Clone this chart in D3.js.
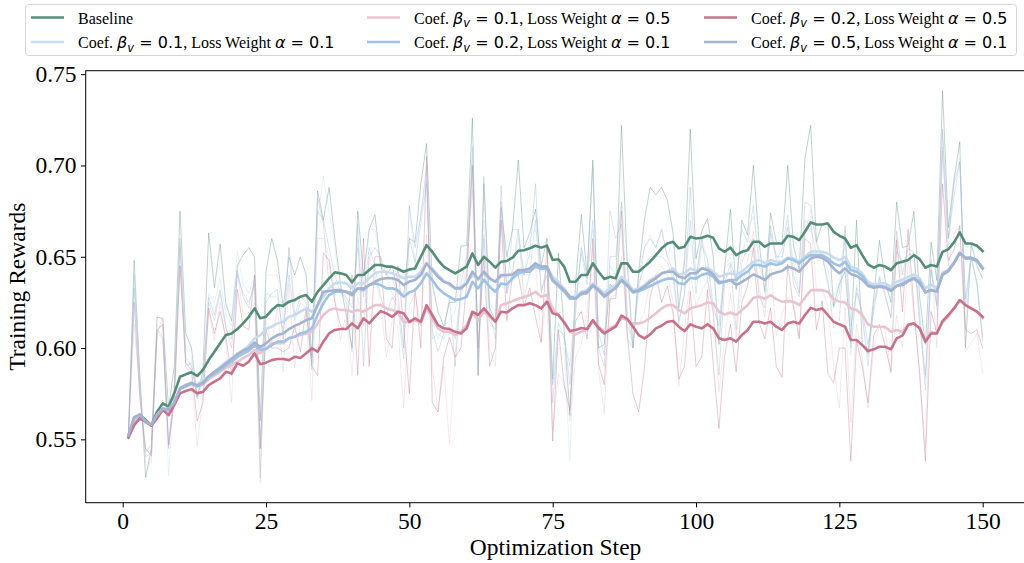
<!DOCTYPE html>
<html lang="en">
<head>
<meta charset="UTF-8">
<title>Training Rewards</title>
<script src="https://d3js.org/d3.v7.min.js"></script>
<style>
  body { margin: 0; background: #fff; }
  svg { display: block; font-family: "Liberation Serif", "Times New Roman", serif; }
</style>
</head>
<body>
<svg id="chart" width="1024" height="563"></svg>
<script>
const steps = d3.range(1, 151);
const xTicks = [0, 25, 50, 75, 100, 125, 150];
const yTicks = [0.55, 0.60, 0.65, 0.70, 0.75];

// legend order (matplotlib fills the 3 columns top to bottom)
const betas = [null, "0.1", "0.1", "0.2", "0.2", "0.5"];
const alphas = [null, "0.1", "0.5", "0.1", "0.5", "0.1"];
const colors = ["#558e78", "#c8dcee", "#e9c4d1", "#9dc3e6", "#c7728a", "#a4b3d0"];

const rawBaseline = [
  .552,.648,.585,.529,.545,.617,.616,.567,.590,.675, .608,.600,.573,.588,.663,.633,.657,.624,.615,.645,
  .651,.655,.650,.560,.642,.660,.648,.622,.650,.640, .650,.640,.595,.686,.670,.688,.660,.635,.618,.600,
  .675,.640,.665,.673,.645,.640,.645,.630,.628,.660, .658,.690,.712,.635,.620,.612,.625,.625,.656,.656,
  .726,.585,.690,.622,.615,.677,.650,.665,.703,.655, .663,.676,.645,.660,.583,.652,.610,.563,.636,.673,
  .640,.703,.600,.602,.635,.632,.722,.646,.600,.642, .670,.688,.684,.688,.681,.663,.622,.647,.720,.649,
  .664,.671,.650,.602,.644,.676,.632,.670,.662,.700, .658,.631,.674,.658,.657,.700,.656,.643,.704,.722,
  .658,.668,.669,.623,.635,.642,.605,.670,.602,.597, .628,.659,.637,.625,.680,.655,.656,.675,.628,.602,
  .658,.637,.741,.666,.692,.713,.600,.657,.645,.638];
const rawB01A01 = [
  .552,.645,.582,.531,.540,.612,.612,.530,.580,.658, .600,.595,.575,.585,.630,.625,.638,.618,.612,.653,
  .635,.630,.640,.552,.640,.640,.640,.615,.655,.625, .632,.630,.590,.670,.694,.675,.655,.632,.628,.610,
  .660,.635,.665,.665,.645,.640,.630,.625,.600,.678, .645,.675,.692,.615,.605,.612,.615,.620,.641,.650,
  .705,.600,.670,.625,.620,.668,.650,.640,.660,.640, .660,.665,.645,.645,.580,.600,.600,.538,.628,.655,
  .640,.665,.615,.605,.645,.640,.680,.650,.605,.630, .655,.662,.655,.665,.650,.660,.625,.650,.660,.637,
  .660,.648,.620,.614,.645,.650,.635,.650,.665,.672, .652,.630,.664,.650,.647,.670,.647,.630,.664,.676,
  .656,.650,.643,.628,.636,.665,.596,.635,.616,.595, .622,.640,.635,.625,.660,.633,.655,.652,.620,.583,
  .648,.621,.718,.654,.695,.704,.610,.650,.635,.605];
const rawB01A05 = [
  .552,.613,.575,.537,.537,.607,.617,.545,.575,.645, .590,.585,.546,.575,.620,.604,.625,.602,.570,.643,
  .618,.620,.625,.526,.615,.603,.622,.587,.635,.589, .615,.618,.571,.660,.660,.650,.628,.604,.620,.585,
  .628,.612,.650,.640,.625,.595,.615,.612,.567,.623, .630,.612,.662,.590,.565,.590,.547,.597,.626,.647,
  .687,.585,.662,.600,.590,.675,.633,.636,.640,.640, .640,.647,.603,.630,.555,.586,.581,.560,.595,.602,
  .619,.655,.588,.564,.628,.629,.650,.612,.605,.613, .620,.636,.640,.645,.640,.625,.579,.610,.640,.623,
  .631,.637,.620,.576,.605,.630,.606,.634,.648,.664, .633,.617,.647,.607,.618,.628,.624,.606,.664,.672,
  .632,.632,.623,.590,.567,.622,.559,.613,.594,.567, .600,.612,.610,.586,.618,.600,.650,.618,.587,.545,
  .649,.600,.710,.645,.663,.667,.598,.603,.608,.586];
const rawB02A01 = [
  .552,.640,.580,.540,.543,.608,.605,.545,.576,.655, .590,.592,.572,.582,.625,.615,.630,.610,.605,.640,
  .630,.625,.635,.545,.630,.628,.628,.608,.640,.615, .625,.622,.588,.675,.670,.655,.640,.630,.628,.622,
  .655,.628,.655,.645,.628,.618,.628,.622,.594,.660, .647,.668,.690,.605,.608,.605,.612,.605,.630,.640,
  .710,.595,.660,.620,.605,.680,.630,.665,.665,.627, .641,.670,.632,.640,.580,.614,.605,.590,.625,.652,
  .635,.670,.609,.596,.675,.660,.668,.605,.600,.635, .645,.650,.650,.650,.647,.638,.613,.630,.670,.630,
  .656,.649,.623,.612,.644,.647,.637,.665,.658,.678, .645,.637,.663,.648,.654,.673,.640,.630,.670,.667,
  .651,.651,.635,.622,.630,.660,.600,.633,.618,.590, .625,.638,.630,.616,.653,.647,.651,.652,.618,.577,
  .643,.624,.708,.660,.683,.702,.623,.650,.635,.606];
const rawB02A05 = [
  .552,.625,.572,.545,.541,.610,.613,.547,.570,.645, .592,.588,.560,.570,.622,.608,.620,.606,.585,.632,
  .612,.610,.640,.545,.610,.600,.600,.598,.600,.612, .598,.622,.590,.585,.652,.648,.625,.612,.610,.640,
  .585,.660,.590,.650,.650,.605,.600,.645,.612,.575, .633,.600,.705,.570,.565,.595,.606,.595,.600,.636,
  .700,.600,.650,.590,.600,.670,.615,.640,.640,.623, .633,.617,.603,.657,.549,.610,.580,.566,.615,.620,
  .605,.660,.591,.580,.627,.627,.675,.608,.575,.565, .589,.628,.640,.625,.634,.619,.583,.590,.631,.590,
  .595,.632,.591,.556,.596,.613,.587,.625,.634,.655, .614,.605,.622,.590,.584,.646,.622,.605,.660,.657,
  .610,.626,.586,.581,.600,.600,.538,.604,.590,.570, .607,.613,.601,.587,.659,.620,.665,.622,.586,.538,
  .620,.608,.690,.648,.654,.667,.610,.608,.610,.600];
const rawB05A01 = [
  .552,.633,.578,.543,.547,.610,.606,.548,.578,.660, .595,.590,.574,.583,.628,.618,.632,.612,.600,.642,
  .628,.622,.638,.529,.625,.630,.632,.605,.655,.618, .628,.625,.592,.682,.668,.635,.632,.632,.625,.598,
  .668,.590,.650,.655,.650,.640,.638,.630,.600,.678, .655,.672,.700,.610,.598,.608,.628,.590,.635,.650,
  .700,.585,.694,.615,.610,.689,.630,.642,.665,.640, .652,.690,.630,.645,.570,.610,.607,.580,.620,.655,
  .638,.700,.600,.590,.650,.650,.680,.620,.600,.640, .655,.660,.655,.665,.650,.642,.615,.630,.688,.638,
  .660,.638,.619,.585,.636,.646,.610,.647,.655,.660, .628,.622,.667,.650,.650,.666,.635,.628,.680,.678,
  .658,.650,.637,.611,.615,.667,.612,.630,.620,.602, .620,.639,.628,.617,.664,.640,.655,.652,.613,.585,
  .643,.623,.720,.660,.690,.702,.627,.650,.636,.604];

const smoothBaseline = [
  .5520,.5615,.5633,.5606,.5578,.5651,.5697,.5679,.5752,.5843, .5856,.5867,.5847,.5880,.5934,.5980,.6026,.6071,.6080,.6104,
  .6135,.6171,.6217,.6163,.6172,.6208,.6235,.6232,.6254,.6263, .6281,.6290,.6254,.6308,.6345,.6382,.6415,.6409,.6400,.6360,
  .6400,.6400,.6427,.6455,.6455,.6446,.6446,.6433,.6418,.6430, .6436,.6500,.6564,.6527,.6482,.6446,.6427,.6409,.6427,.6446,
  .6518,.6455,.6500,.6473,.6440,.6473,.6477,.6495,.6533,.6536, .6546,.6560,.6550,.6560,.6482,.6486,.6446,.6363,.6363,.6400,
  .6400,.6464,.6418,.6378,.6390,.6382,.6464,.6464,.6418,.6418, .6446,.6473,.6509,.6546,.6573,.6582,.6546,.6555,.6609,.6600,
  .6604,.6615,.6604,.6546,.6527,.6550,.6509,.6527,.6536,.6582, .6582,.6555,.6573,.6573,.6573,.6615,.6609,.6591,.6637,.6688,
  .6677,.6677,.6682,.6637,.6615,.6600,.6549,.6564,.6509,.6458, .6440,.6455,.6446,.6427,.6464,.6473,.6482,.6509,.6487,.6440,
  .6455,.6446,.6527,.6541,.6579,.6634,.6573,.6573,.6560,.6531];
const smoothB01A01 = [
  .5520,.5620,.5635,.5595,.5580,.5635,.5670,.5665,.5705,.5780, .5800,.5807,.5800,.5825,.5843,.5870,.5898,.5925,.5944,.5970,
  .5989,.6016,.6053,.6071,.6104,.6117,.6135,.6144,.6171,.6181, .6199,.6217,.6199,.6235,.6281,.6327,.6354,.6360,.6354,.6327,
  .6354,.6354,.6382,.6409,.6418,.6418,.6409,.6400,.6382,.6391, .6390,.6418,.6464,.6436,.6400,.6367,.6345,.6327,.6336,.6354,
  .6400,.6373,.6409,.6382,.6363,.6390,.6400,.6400,.6418,.6418, .6436,.6455,.6446,.6446,.6391,.6363,.6327,.6281,.6281,.6308,
  .6317,.6354,.6327,.6300,.6327,.6345,.6390,.6363,.6317,.6327, .6345,.6373,.6390,.6409,.6418,.6436,.6400,.6409,.6436,.6422,
  .6436,.6440,.6418,.6390,.6400,.6409,.6400,.6418,.6446,.6473, .6482,.6464,.6482,.6473,.6473,.6495,.6491,.6473,.6500,.6527,
  .6530,.6527,.6518,.6495,.6482,.6500,.6446,.6436,.6409,.6363, .6348,.6354,.6354,.6336,.6363,.6373,.6390,.6403,.6382,.6327,
  .6348,.6327,.6414,.6427,.6473,.6524,.6491,.6491,.6477,.6440];
const smoothB01A05 = [
  .5520,.5590,.5625,.5600,.5578,.5630,.5670,.5650,.5690,.5780, .5790,.5800,.5790,.5800,.5830,.5850,.5870,.5892,.5907,.5925,
  .5944,.5962,.5990,.5971,.5998,.6026,.6026,.6026,.6053,.6062, .6071,.6080,.6089,.6135,.6181,.6208,.6217,.6208,.6208,.6199,
  .6208,.6199,.6217,.6235,.6235,.6217,.6208,.6199,.6144,.6140, .6153,.6135,.6217,.6163,.6108,.6089,.6089,.6071,.6089,.6126,
  .6190,.6153,.6199,.6171,.6144,.6235,.6245,.6257,.6270,.6279, .6290,.6308,.6281,.6290,.6217,.6181,.6144,.6089,.6075,.6089,
  .6099,.6144,.6117,.6089,.6108,.6126,.6163,.6153,.6135,.6135, .6144,.6166,.6190,.6217,.6235,.6235,.6208,.6190,.6217,.6226,
  .6235,.6250,.6245,.6199,.6184,.6195,.6181,.6208,.6235,.6275, .6281,.6270,.6290,.6268,.6254,.6257,.6254,.6235,.6275,.6317,
  .6317,.6317,.6308,.6268,.6254,.6250,.6217,.6208,.6181,.6130, .6117,.6117,.6115,.6089,.6099,.6089,.6130,.6135,.6108,.6044,
  .6089,.6080,.6140,.6171,.6217,.6263,.6235,.6217,.6199,.6163];
const smoothB02A01 = [
  .5520,.5615,.5632,.5593,.5578,.5630,.5665,.5660,.5695,.5775, .5790,.5805,.5790,.5805,.5840,.5860,.5880,.5905,.5925,.5950,
  .5970,.5985,.6015,.5990,.5995,.6016,.6035,.6035,.6053,.6062, .6080,.6089,.6108,.6181,.6245,.6290,.6308,.6308,.6308,.6300,
  .6327,.6317,.6345,.6354,.6345,.6327,.6327,.6317,.6281,.6305, .6317,.6354,.6409,.6373,.6327,.6300,.6281,.6263,.6268,.6281,
  .6363,.6327,.6373,.6336,.6308,.6354,.6348,.6382,.6409,.6418, .6418,.6446,.6433,.6436,.6368,.6340,.6310,.6270,.6270,.6295,
  .6300,.6340,.6315,.6280,.6305,.6330,.6370,.6340,.6305,.6310, .6325,.6340,.6355,.6370,.6380,.6380,.6355,.6350,.6385,.6380,
  .6400,.6409,.6390,.6354,.6363,.6373,.6373,.6400,.6418,.6455, .6455,.6446,.6464,.6455,.6464,.6491,.6482,.6464,.6491,.6509,
  .6509,.6509,.6491,.6464,.6450,.6473,.6427,.6418,.6395,.6345, .6336,.6340,.6336,.6318,.6340,.6354,.6370,.6385,.6365,.6305,
  .6318,.6310,.6405,.6425,.6465,.6520,.6490,.6490,.6475,.6435];
const smoothB02A05 = [
  .5509,.5578,.5615,.5597,.5575,.5615,.5660,.5633,.5688,.5752, .5765,.5775,.5752,.5760,.5797,.5816,.5834,.5870,.5860,.5916,
  .5903,.5925,.5971,.5911,.5920,.5934,.5940,.5940,.5934,.5952, .5946,.5971,.5998,.5980,.6035,.6080,.6099,.6104,.6104,.6135,
  .6108,.6163,.6135,.6171,.6202,.6190,.6171,.6199,.6190,.6144, .6163,.6144,.6235,.6181,.6126,.6108,.6104,.6089,.6080,.6108,
  .6199,.6181,.6217,.6181,.6144,.6199,.6195,.6217,.6235,.6235, .6245,.6235,.6217,.6254,.6190,.6181,.6140,.6093,.6099,.6110,
  .6104,.6153,.6110,.6080,.6099,.6117,.6178,.6160,.6117,.6071, .6053,.6075,.6108,.6122,.6144,.6148,.6117,.6093,.6130,.6117,
  .6108,.6130,.6108,.6053,.6044,.6053,.6035,.6071,.6099,.6144, .6144,.6135,.6144,.6117,.6099,.6135,.6144,.6135,.6181,.6220,
  .6208,.6217,.6181,.6144,.6130,.6117,.6044,.6044,.6016,.5984, .5993,.6007,.6007,.5993,.6053,.6068,.6126,.6135,.6108,.6035,
  .6080,.6080,.6148,.6181,.6217,.6263,.6235,.6217,.6199,.6171];
const smoothB05A01 = [
  .5520,.5622,.5637,.5596,.5580,.5633,.5668,.5663,.5700,.5780, .5795,.5810,.5795,.5810,.5845,.5870,.5890,.5915,.5940,.5965,
  .5985,.6000,.6030,.6005,.6026,.6053,.6071,.6080,.6104,.6122, .6135,.6153,.6163,.6235,.6308,.6312,.6317,.6317,.6308,.6290,
  .6327,.6327,.6345,.6363,.6378,.6382,.6382,.6373,.6345,.6364, .6373,.6400,.6464,.6427,.6390,.6363,.6354,.6327,.6327,.6354,
  .6418,.6378,.6418,.6382,.6363,.6400,.6400,.6403,.6427,.6427, .6436,.6464,.6446,.6446,.6373,.6345,.6317,.6281,.6272,.6300,
  .6308,.6345,.6317,.6285,.6308,.6330,.6373,.6345,.6308,.6317, .6336,.6363,.6382,.6409,.6418,.6418,.6390,.6382,.6410,.6410,
  .6436,.6427,.6403,.6363,.6363,.6373,.6345,.6363,.6382,.6403, .6390,.6373,.6403,.6414,.6422,.6446,.6436,.6418,.6455,.6491,
  .6500,.6495,.6473,.6436,.6410,.6436,.6405,.6395,.6375,.6340, .6330,.6336,.6330,.6313,.6340,.6345,.6365,.6380,.6355,.6305,
  .6318,.6310,.6400,.6420,.6465,.6520,.6495,.6495,.6482,.6436];

const rawSeries = [rawBaseline, rawB01A01, rawB01A05, rawB02A01, rawB02A05, rawB05A01];
const smoothSeries = [smoothBaseline, smoothB01A01, smoothB01A05, smoothB02A01, smoothB02A05, smoothB05A01];

const svg = d3.select("#chart");
const x = d3.scaleLinear().domain([-6.45, 157.45]).range([85.7, 1025.4]);
const y = d3.scaleLinear().domain([0.5153, 0.7519]).range([502.7, 70.7]);

const line = d3.line().x((d, i) => x(steps[i])).y(d => y(d));

// raw curves first, faint
svg.append("g").selectAll("path")
  .data(rawSeries)
  .join("path")
  .attr("d", line)
  .attr("fill", "none")
  .attr("stroke", (d, i) => colors[i])
  .attr("stroke-width", 1)
  .attr("stroke-opacity", 0.38)
  .attr("stroke-linejoin", "round");

svg.append("g").selectAll("path")
  .data(smoothSeries)
  .join("path")
  .attr("d", line)
  .attr("fill", "none")
  .attr("stroke", (d, i) => colors[i])
  .attr("stroke-width", 2.6)
  .attr("stroke-linejoin", "round")
  .attr("stroke-linecap", "square");

// frame (right edge falls just outside the picture)
svg.append("rect")
  .attr("x", 85.7).attr("y", 70.7)
  .attr("width", 1025.4 - 85.7).attr("height", 502.7 - 70.7)
  .attr("fill", "none").attr("stroke", "#000").attr("stroke-width", 1);

const xAxis = svg.append("g")
  .attr("transform", "translate(0,502.7)")
  .call(d3.axisBottom(x).tickValues(xTicks).tickSize(4.7).tickPadding(4.5));
const yAxis = svg.append("g")
  .attr("transform", "translate(85.7,0)")
  .call(d3.axisLeft(y).tickValues(yTicks).tickFormat(d3.format(".2f")).tickSize(4.7).tickPadding(4.5));

[xAxis, yAxis].forEach(a => {
  a.select(".domain").remove();
  a.selectAll("text")
    .attr("font-family", "Liberation Serif, Times New Roman, serif")
    .attr("font-size", 23.5)
    .attr("fill", "#000");
  a.selectAll("line").attr("stroke", "#000");
});

svg.append("text")
  .attr("x", 555.5).attr("y", 555)
  .attr("text-anchor", "middle")
  .attr("font-size", 23.5)
  .text("Optimization Step");

svg.append("text")
  .attr("transform", "translate(25,286.7) rotate(-90)")
  .attr("text-anchor", "middle")
  .attr("font-size", 23.5)
  .text("Training Rewards");

// legend
const legend = svg.append("g");
legend.append("rect")
  .attr("x", 25.5).attr("y", 4.5)
  .attr("width", 991).attr("height", 51)
  .attr("rx", 3)
  .attr("fill", "#fff").attr("fill-opacity", 0.8)
  .attr("stroke", "#d6d6d6").attr("stroke-width", 1);

const colX = [31, 367, 704];
const rowY = [17.5, 42];
const math = "DejaVu Sans, sans-serif";

colors.forEach((c, i) => {
  const gx = colX[Math.floor(i / 2)];
  const gy = rowY[i % 2];
  legend.append("line")
    .attr("x1", gx).attr("x2", gx + 33)
    .attr("y1", gy).attr("y2", gy)
    .attr("stroke", c).attr("stroke-width", 2.6);
  const t = legend.append("text")
    .attr("x", gx + 47).attr("y", gy + 6)
    .attr("font-size", 16);
  if (betas[i] === null) {
    t.text("Baseline");
    return;
  }
  t.append("tspan").text("Coef. ");
  t.append("tspan").attr("font-family", math).attr("font-style", "italic").text("\u03b2");
  t.append("tspan").attr("font-family", math).attr("font-style", "italic")
    .attr("font-size", 11.5).attr("dy", 3.5).text("v");
  t.append("tspan").attr("font-family", math).attr("dy", -3.5).text(" = " + betas[i]);
  t.append("tspan").text(", Loss Weight ");
  t.append("tspan").attr("font-family", math).attr("font-style", "italic").text("\u03b1");
  t.append("tspan").attr("font-family", math).text(" = " + alphas[i]);
});
</script>
</body>
</html>
